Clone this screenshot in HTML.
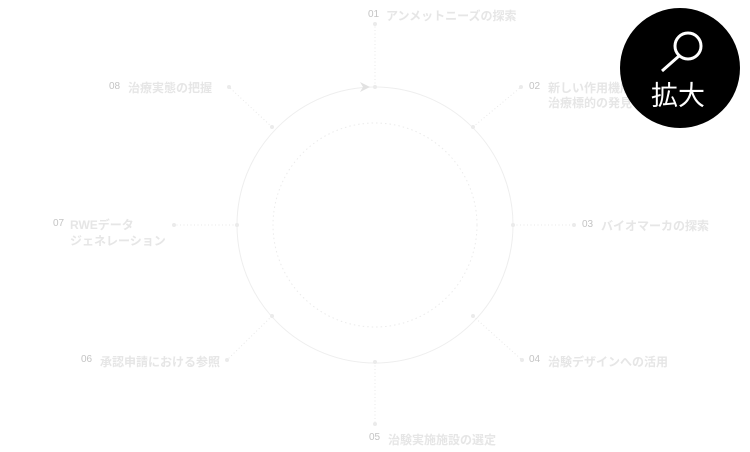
<!DOCTYPE html>
<html><head><meta charset="utf-8"><style>
html,body{margin:0;padding:0;background:#fff;}
body{width:750px;height:452px;position:relative;overflow:hidden;font-family:"Liberation Sans","Noto Sans CJK JP",sans-serif;}
svg{position:absolute;left:0;top:0;}
.t{font-family:"Liberation Sans","Noto Sans CJK JP",sans-serif;}
</style></head><body>
<svg width="750" height="452" viewBox="0 0 750 452">
<g fill="none" stroke="#eeeeee" stroke-width="1">
<circle cx="375" cy="225" r="138"/>
<circle cx="375" cy="225" r="102" stroke-dasharray="1.5 3" stroke="#ebebeb"/>
<g stroke-dasharray="1 2.5" stroke="#e8e8e8">
<line x1="375" y1="87" x2="375" y2="24"/>
<line x1="473" y1="127" x2="521" y2="87"/>
<line x1="513" y1="225" x2="574" y2="225"/>
<line x1="473" y1="316" x2="522" y2="360"/>
<line x1="375" y1="362" x2="375" y2="424"/>
<line x1="272" y1="316" x2="227" y2="360"/>
<line x1="237" y1="225" x2="174" y2="225"/>
<line x1="272" y1="127" x2="229" y2="87"/>
</g>
</g>
<g fill="#ebebeb">
<circle cx="375" cy="87" r="2"/><circle cx="375" cy="24" r="2"/>
<circle cx="473" cy="127" r="2"/><circle cx="521" cy="87" r="2"/>
<circle cx="513" cy="225" r="2"/><circle cx="574" cy="225" r="2"/>
<circle cx="473" cy="316" r="2"/><circle cx="522" cy="360" r="2"/>
<circle cx="375" cy="362" r="2"/><circle cx="375" cy="424" r="2"/>
<circle cx="272" cy="316" r="2"/><circle cx="227" cy="360" r="2"/>
<circle cx="237" cy="225" r="2"/><circle cx="174" cy="225" r="2"/>
<circle cx="272" cy="127" r="2"/><circle cx="229" cy="87" r="2"/>
<path d="M360 82 L370 87 L360 92 L363 87 Z" fill="#e2e2e2"/>
</g>
<g class="t" font-size="10" fill="#c4c4c4">
<text x="368" y="17">01</text>
<text x="529" y="89">02</text>
<text x="582" y="227">03</text>
<text x="529" y="362">04</text>
<text x="369" y="440">05</text>
<text x="81" y="362">06</text>
<text x="53" y="226">07</text>
<text x="109" y="89">08</text>
</g>
<g class="t" font-size="12" font-weight="700" fill="#e6e6e6">
<text x="386" y="20">アンメットニーズの探索</text>
<text x="548" y="92">新しい作用機序・</text>
<text x="548" y="107">治療標的の発見</text>
<text x="601" y="230">バイオマーカの探索</text>
<text x="548" y="366">治験デザインへの活用</text>
<text x="388" y="444">治験実施施設の選定</text>
<text x="100" y="366">承認申請における参照</text>
<text x="70" y="229">RWEデータ</text>
<text x="70" y="245">ジェネレーション</text>
<text x="128" y="92">治療実態の把握</text>
</g>
<circle cx="680" cy="68" r="60" fill="#000"/>
<circle cx="688" cy="46" r="13" fill="none" stroke="#fff" stroke-width="3"/>
<line x1="679" y1="56" x2="662" y2="71" stroke="#fff" stroke-width="3"/>
<text x="678" y="105" text-anchor="middle" class="t" font-size="27" fill="#fff">拡大</text>
</svg>
</body></html>
